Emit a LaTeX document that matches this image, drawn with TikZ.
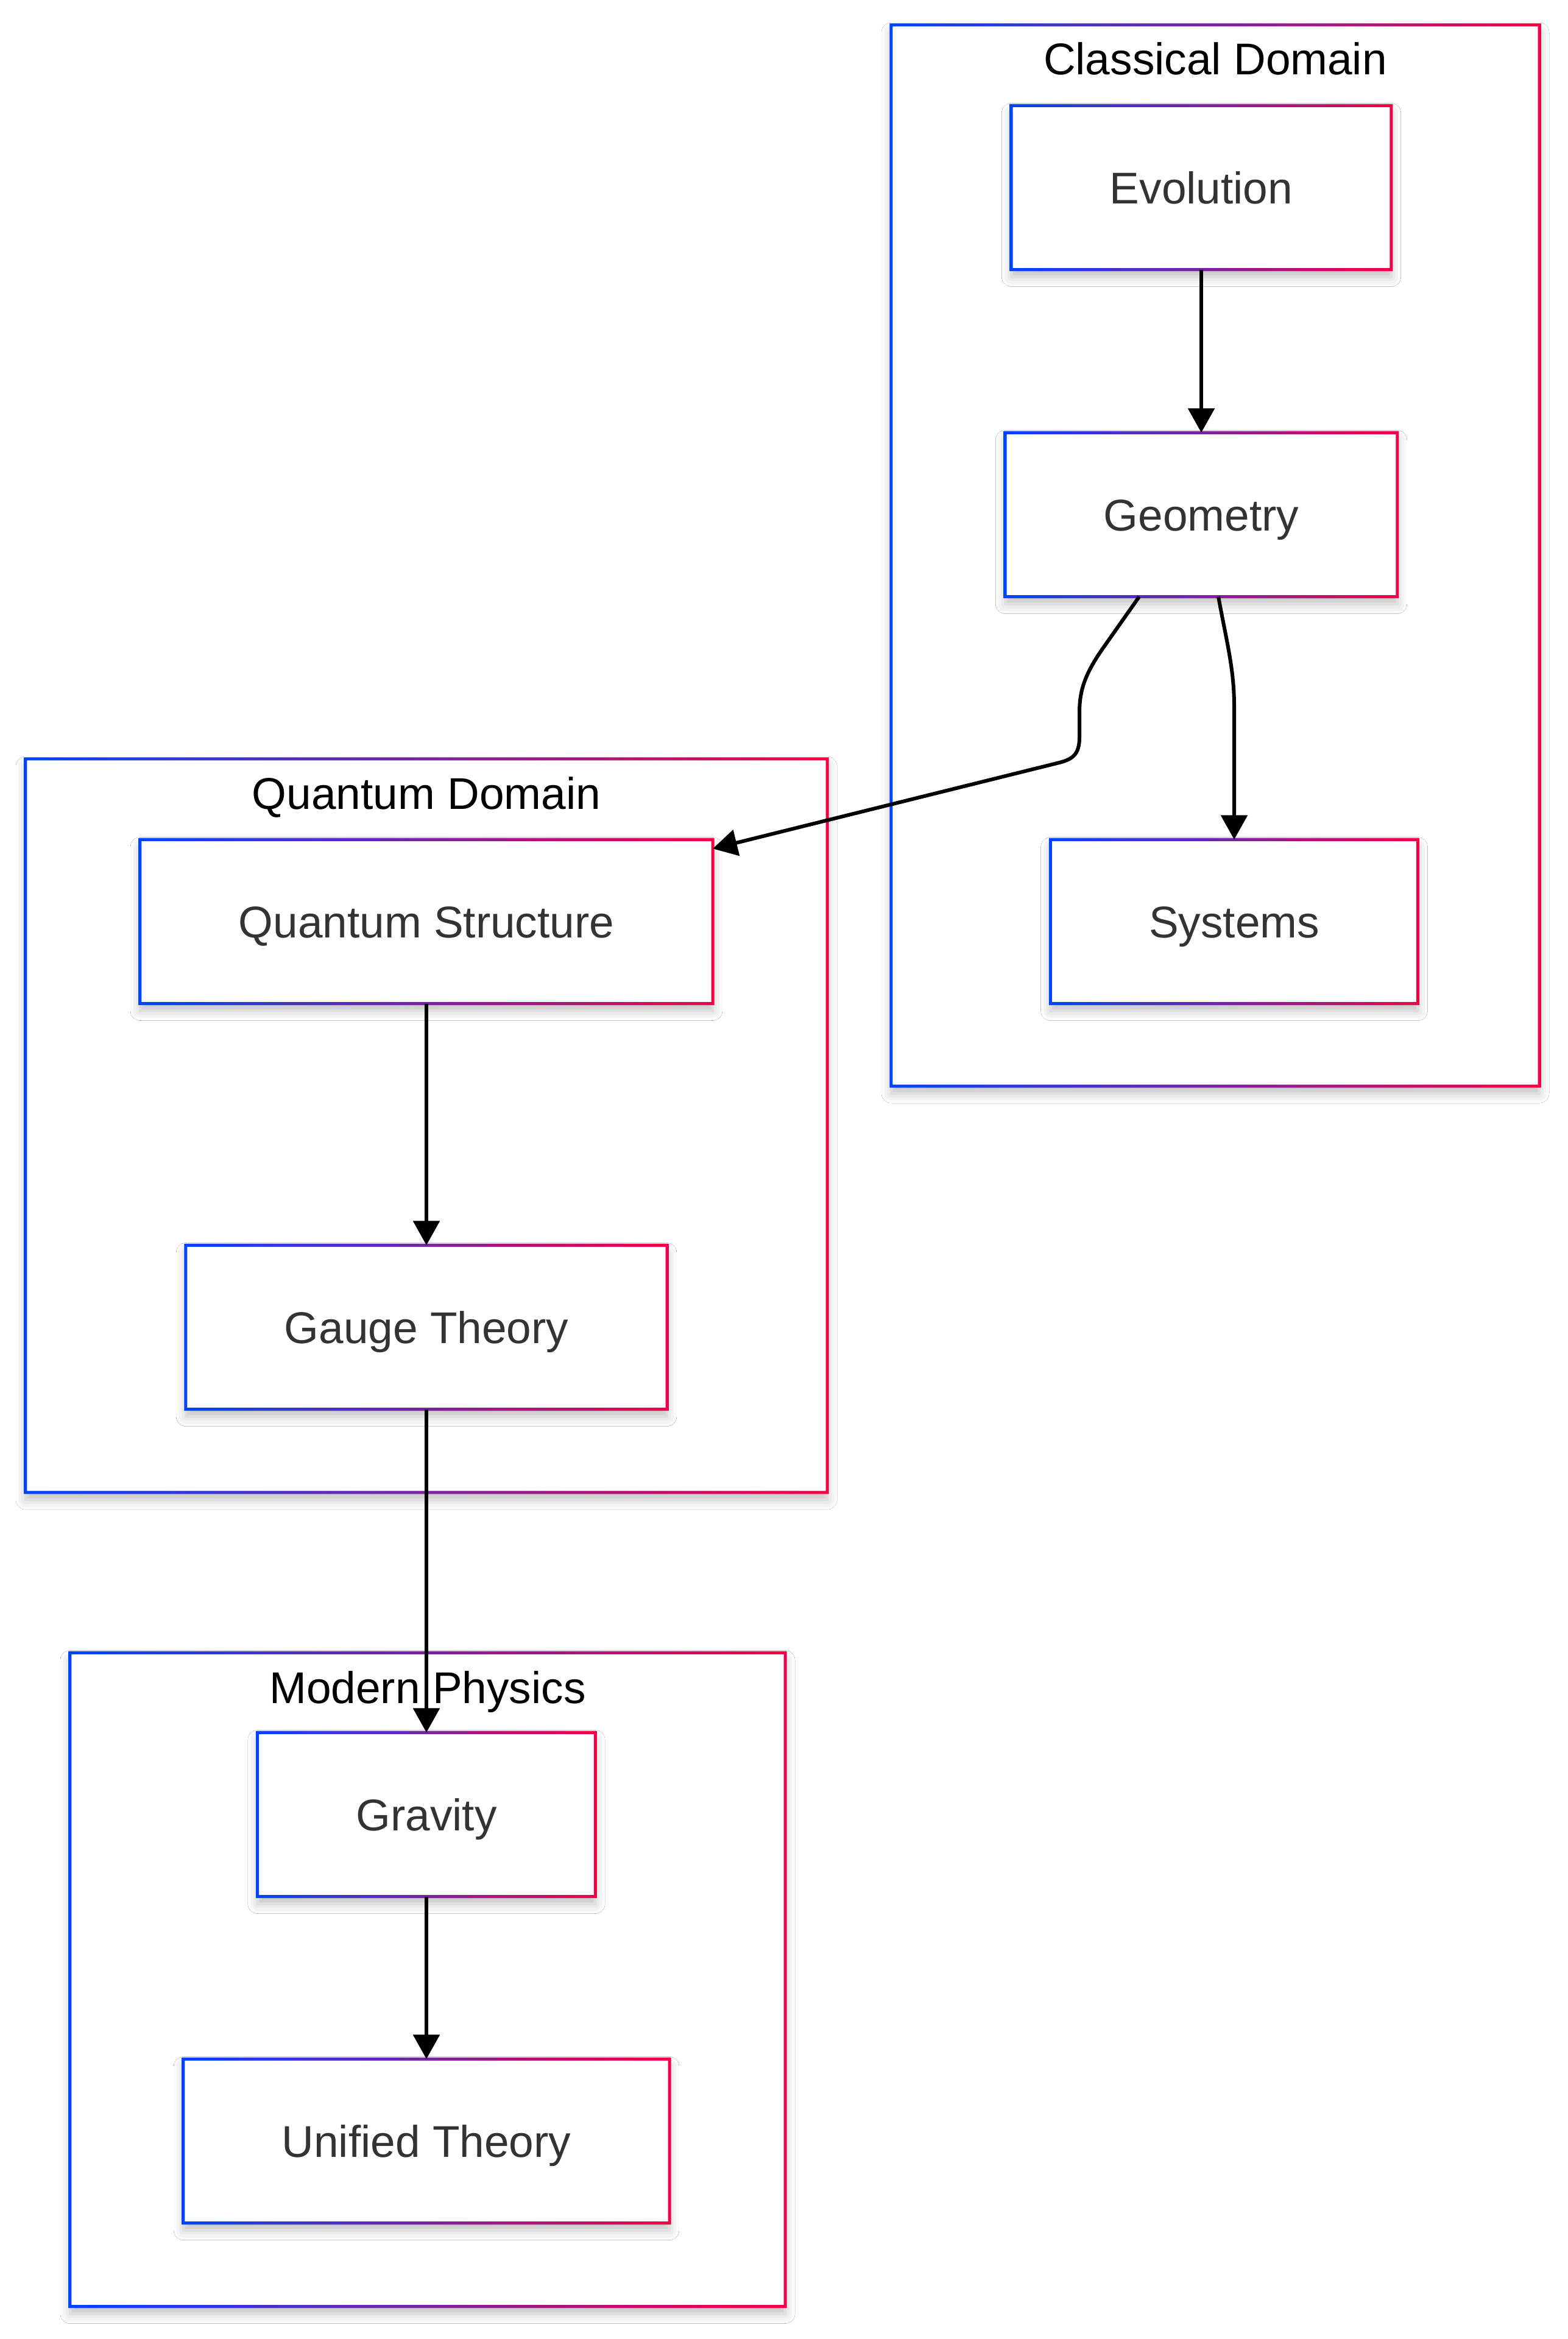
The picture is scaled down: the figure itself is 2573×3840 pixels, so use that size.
\documentclass[tikz,border=0pt]{standalone}
\usepackage{fontspec}
\setmainfont{Liberation Sans}
\usetikzlibrary{shadows.blur,arrows.meta}
\definecolor{gA}{HTML}{0044FF}
\definecolor{gB}{HTML}{F50045}
\definecolor{txt}{HTML}{333333}
\newcommand\gframe[1]{%
  \shade[left color=gA, right color=gB, even odd rule]
    ([shift={(-2.5pt,-2.5pt)}]#1.south west) rectangle ([shift={(2.5pt,2.5pt)}]#1.north east)
    ([shift={(2.5pt,2.5pt)}]#1.south west) rectangle ([shift={(-2.5pt,-2.5pt)}]#1.north east);}
\tikzset{
  shd/.style={blur shadow={shadow xshift=0pt, shadow yshift=-12pt, shadow blur radius=16pt, shadow opacity=25}},
  box/.style={rectangle, minimum height=269pt, inner xsep=161.5pt, inner ysep=0pt,
    text height=52pt, text depth=0pt, font=\fontsize{73}{88}\selectfont, text=txt,
    fill=white, shd},
  cont/.style={rectangle, inner sep=0pt, fill=white, shd},
  ttl/.style={font=\fontsize{73}{88}\selectfont, text=black, anchor=base, inner sep=0pt},
  edge/.style={line width=6pt, -{Triangle[length=40pt,width=43pt]}},
}
\begin{document}
\begin{tikzpicture}[x=1pt,y=-1pt]
\useasboundingbox[fill=white] (0,0) rectangle (2573,3840);
% containers
\node[cont, minimum width=1064pt, minimum height=1742pt] (cd) at (1995,912) {};
\gframe{cd}
\node[ttl] (cdt) at ([yshift=-82pt]cd.north) {Classical Domain};
\node[cont, minimum width=1316pt, minimum height=1204pt] (qd) at (700,1848) {};
\gframe{qd}
\node[ttl] (qdt) at ([yshift=-83pt]qd.north) {Quantum Domain};
\node[cont, minimum width=1174pt, minimum height=1073pt] (mp) at (702,3250) {};
\gframe{mp}
\node[ttl] (mpt) at ([yshift=-83pt]mp.north) {Modern Physics};
% nodes
\node[box] (evo) at (1972,308) {Evolution}; \gframe{evo}
\node[box] (geo) at (1972,845) {Geometry}; \gframe{geo}
\node[box] (sys) at (2026,1513) {Systems}; \gframe{sys}
\node[box] (qs) at (700,1513) {Quantum Structure}; \gframe{qs}
\node[box] (gt) at (700,2179) {Gauge Theory}; \gframe{gt}
\node[box] (gr) at (700,2979) {Gravity}; \gframe{gr}
\node[box] (ut) at (700,3515) {Unified Theory}; \gframe{ut}
% waypoints
\coordinate (a1) at (1810,1065);
\coordinate (a2) at (1772,1170);
\coordinate (a3) at (1772,1210);
\coordinate (a4) at (1735,1253);
\coordinate (b1) at (2026,1160);
% edges
\draw[edge] (evo) -- (geo);
\draw[edge] ([xshift=28pt]geo.south) .. controls (2015,1060) and (2026,1100) .. (b1) -- (sys.north);
\draw[edge] ([xshift=-102pt]geo.south) -- (a1) .. controls (1780,1108) and (1772,1135) .. (a2) -- (a3)
  .. controls (1772,1240) and (1760,1247) .. (a4) -- ([yshift=-15pt]qs.north east);
\draw[edge] (qs) -- (gt);
\draw[edge] (gr) -- (ut);
\draw[edge] (gt) -- (gr);
\end{tikzpicture}
\end{document}
